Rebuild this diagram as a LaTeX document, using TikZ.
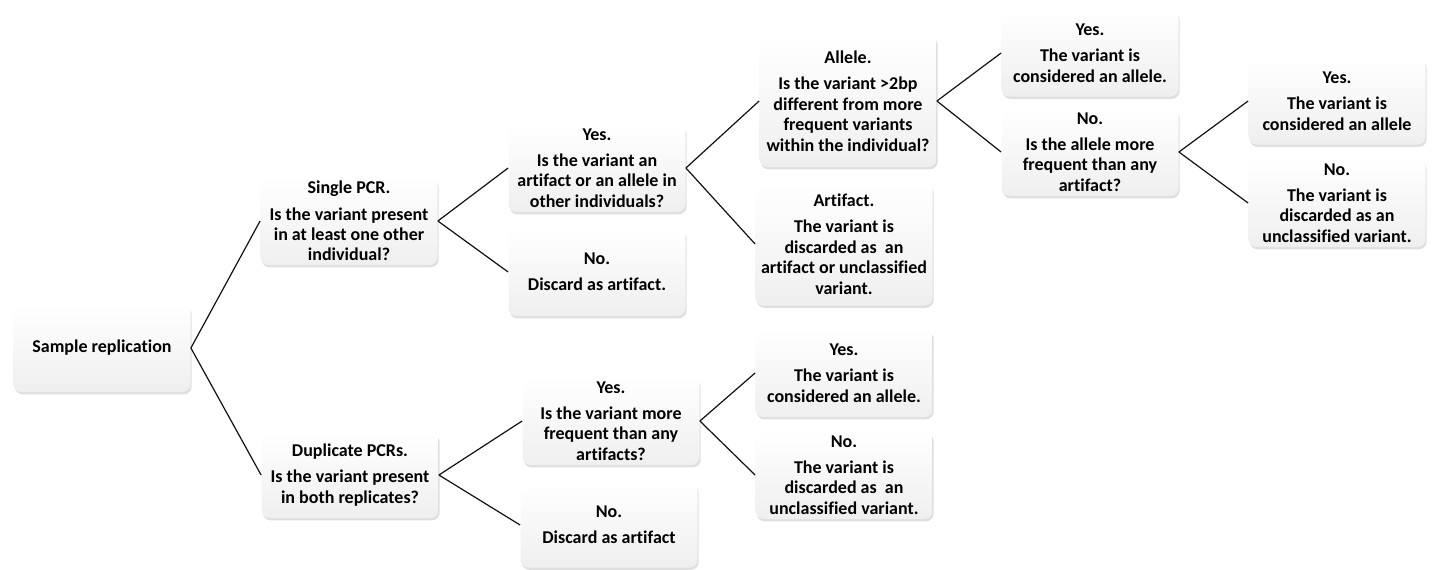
\documentclass[tikz,border=0pt]{standalone}
\usepackage{fontspec}
\setmainfont[Ligatures=NoCommon]{Carlito}
\usepackage{xcolor}
\usepackage{tikz}
\usetikzlibrary{shadows}
\definecolor{boxShade}{HTML}{EFEFEF}
\definecolor{linkBlack}{HTML}{111111}
\tikzset{
  qbox/.style={rectangle, rounded corners=4pt, top color=white, bottom color=boxShade, draw=none, align=center, minimum width=88.5pt, minimum height=44pt, inner sep=2pt, font=\fontsize{9}{10.2}\selectfont\bfseries, drop shadow={opacity=0.25, shadow xshift=0.6pt, shadow yshift=-1.2pt}},
  link/.style={draw=linkBlack, line width=0.6pt}
}
\begin{document}
\begin{tikzpicture}[x=0.5pt,y=-0.5pt]
\useasboundingbox (0,0) rectangle (1432,569);

% level 0
\node[qbox] (sample) at (102,348) {Sample replication};

% level 1
\node[qbox] (single) at (349,221) {Single PCR.\\[3pt]Is the variant present\\in at least one other\\individual?};
\node[qbox, minimum height=43pt] (duplicate) at (350,475) {Duplicate PCRs.\\[3pt]Is the variant present\\in both replicates?};

% level 2
\node[qbox] (singleyes) at (597,168) {Yes.\\[3pt]Is the variant an\\artifact or an allele in\\other individuals?};
\node[qbox] (singleno) at (597,272) {No.\\[3pt]Discard as artifact.};
\node[qbox] (dupyes) at (611,421) {Yes.\\[3pt]Is the variant more\\frequent than any\\artifacts?};
\node[qbox, minimum height=42.5pt] (dupno) at (609,525) {No.\\[3pt]Discard as artifact};

% level 3
\node[qbox, minimum height=66pt] (allele) at (848,101) {Allele.\\[3pt]Is the variant >2bp\\different from more\\frequent variants\\within the individual?};
\node[qbox, minimum height=61.5pt] (artifact) at (844,244) {Artifact.\\[3pt]The variant is\\discarded as\ \ an\\artifact or unclassified\\variant.};
\node[qbox] (dupallele) at (844,373) {Yes.\\[3pt]The variant is\\considered an allele.};
\node[qbox] (dupunclass) at (844,475) {No.\\[3pt]The variant is\\discarded as\ \ an\\unclassified variant.};

% level 4
\node[qbox, minimum height=43.5pt] (alleleyes) at (1090,53) {Yes.\\[3pt]The variant is\\considered an allele.};
\node[qbox] (alleleno) at (1090,152) {No.\\[3pt]Is the allele more\\frequent than any\\artifact?};

% level 5
\node[qbox, minimum height=43.5pt] (freqyes) at (1337,101) {Yes.\\[3pt]The variant is\\considered an allele};
\node[qbox] (freqno) at (1337,203) {No.\\[3pt]The variant is\\discarded as an\\unclassified variant.};

\draw[link] (sample.east) -- (single.west);
\draw[link] (sample.east) -- (duplicate.west);
\draw[link] (single.east) -- (singleyes.west);
\draw[link] (single.east) -- (singleno.west);
\draw[link] (duplicate.east) -- (dupyes.west);
\draw[link] (duplicate.east) -- (dupno.west);
\draw[link] (singleyes.east) -- (allele.west);
\draw[link] (singleyes.east) -- (artifact.west);
\draw[link] (dupyes.east) -- (dupallele.west);
\draw[link] (dupyes.east) -- (dupunclass.west);
\draw[link] (allele.east) -- (alleleyes.west);
\draw[link] (allele.east) -- (alleleno.west);
\draw[link] (alleleno.east) -- (freqyes.west);
\draw[link] (alleleno.east) -- (freqno.west);

\end{tikzpicture}
\end{document}
